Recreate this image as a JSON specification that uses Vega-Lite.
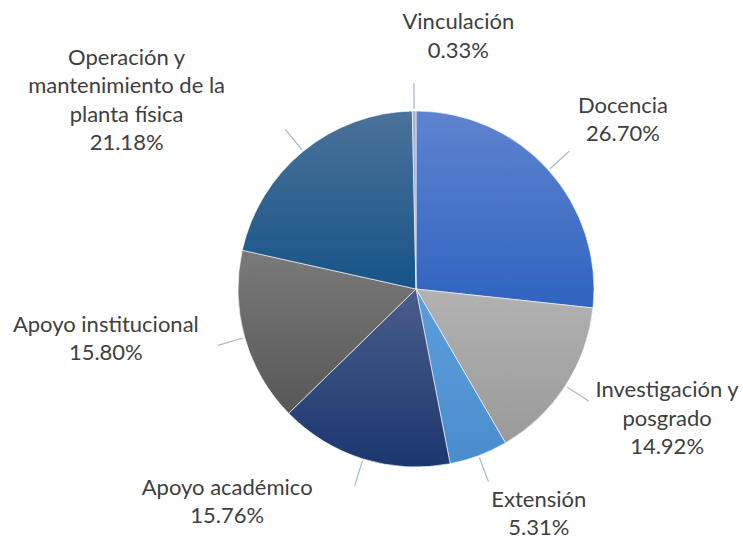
{
  "$schema": "https://vega.github.io/schema/vega-lite/v6.json",
  "width": 654,
  "height": 502,
  "autosize": "none",
  "padding": {"left": 89, "top": 38, "right": 0, "bottom": 0},
  "background": "white",
  "config": {"view": {"stroke": null}},
  "data": {"values": [
    {"idx": 1, "categoria": "Docencia", "etiqueta": "Docencia", "pct": 26.70},
    {"idx": 2, "categoria": "Investigación y posgrado", "etiqueta": "Investigación y\nposgrado", "pct": 14.92},
    {"idx": 3, "categoria": "Extensión", "etiqueta": "Extensión", "pct": 5.31},
    {"idx": 4, "categoria": "Apoyo académico", "etiqueta": "Apoyo académico", "pct": 15.76},
    {"idx": 5, "categoria": "Apoyo institucional", "etiqueta": "Apoyo institucional", "pct": 15.80},
    {"idx": 6, "categoria": "Operación y mantenimiento de la planta física", "etiqueta": "Operación y\nmantenimiento de la\nplanta física", "pct": 21.18},
    {"idx": 7, "categoria": "Vinculación", "etiqueta": "Vinculación", "pct": 0.33}
  ]},
  "transform": [
    {"window": [{"op": "sum", "field": "pct", "as": "fin"}], "sort": [{"field": "idx"}], "frame": [null, 0]},
    {"calculate": "datum.fin - datum.pct", "as": "inicio"},
    {"calculate": "datum.fin - datum.pct / 2", "as": "medio"},
    {"calculate": "datum.etiqueta + '\\n' + format(datum.pct, '.2f') + '%'", "as": "texto"}
  ],
  "layer": [
    {
      "mark": {"type": "arc", "outerRadius": 178, "stroke": "#ffffff", "strokeWidth": 0.6},
      "encoding": {
        "theta": {"field": "inicio", "type": "quantitative", "scale": {"domain": [0, 100]}, "stack": null},
        "theta2": {"field": "fin"},
        "fill": {
          "condition": [
            {"test": "datum.idx === 1", "value": {"gradient": "linear", "x1": 0, "y1": 0, "x2": 0, "y2": 1, "stops": [{"offset": 0, "color": "#5F83D0"}, {"offset": 1, "color": "#3064BF"}]}},
            {"test": "datum.idx === 2", "value": {"gradient": "linear", "x1": 0, "y1": 0, "x2": 0, "y2": 1, "stops": [{"offset": 0, "color": "#B2B2B2"}, {"offset": 1, "color": "#9A9A9A"}]}},
            {"test": "datum.idx === 3", "value": {"gradient": "linear", "x1": 0, "y1": 0, "x2": 0, "y2": 1, "stops": [{"offset": 0, "color": "#5C9EDC"}, {"offset": 1, "color": "#4A8DCE"}]}},
            {"test": "datum.idx === 4", "value": {"gradient": "linear", "x1": 0, "y1": 0, "x2": 0, "y2": 1, "stops": [{"offset": 0, "color": "#4A5D8C"}, {"offset": 1, "color": "#1B376F"}]}},
            {"test": "datum.idx === 5", "value": {"gradient": "linear", "x1": 0, "y1": 0, "x2": 0, "y2": 1, "stops": [{"offset": 0, "color": "#7A7A7A"}, {"offset": 1, "color": "#575757"}]}},
            {"test": "datum.idx === 6", "value": {"gradient": "linear", "x1": 0, "y1": 0, "x2": 0, "y2": 1, "stops": [{"offset": 0, "color": "#4B7299"}, {"offset": 1, "color": "#175488"}]}}
          ],
          "value": {"gradient": "linear", "x1": 0, "y1": 0, "x2": 0, "y2": 1, "stops": [{"offset": 0, "color": "#A3B5D8"}, {"offset": 1, "color": "#8EA6D4"}]}
        }
      }
    },
    {
      "mark": {"type": "arc", "innerRadius": 180, "outerRadius": 206, "stroke": "#ADBBD1", "strokeWidth": 1.3, "fill": null},
      "encoding": {
        "theta": {"field": "medio", "type": "quantitative", "scale": {"domain": [0, 100]}, "stack": null},
        "theta2": {"field": "medio"}
      }
    },
    {
      "transform": [{"filter": "datum.idx === 1"}],
      "mark": {"type": "text", "radius": 262, "dx": 12, "dy": -8, "align": "center", "baseline": "middle", "lineBreak": "\n", "lineHeight": 28.5, "font": "Lato", "fontSize": 22, "fill": "#404040"},
      "encoding": {"theta": {"field": "medio", "type": "quantitative", "scale": {"domain": [0, 100]}, "stack": null}, "text": {"field": "texto"}}
    },
    {
      "transform": [{"filter": "datum.idx === 2"}],
      "mark": {"type": "text", "radius": 285, "dx": 12, "dy": -54, "align": "center", "baseline": "middle", "lineBreak": "\n", "lineHeight": 28.5, "font": "Lato", "fontSize": 22, "fill": "#404040"},
      "encoding": {"theta": {"field": "medio", "type": "quantitative", "scale": {"domain": [0, 100]}, "stack": null}, "text": {"field": "texto"}}
    },
    {
      "transform": [{"filter": "datum.idx === 3"}],
      "mark": {"type": "text", "radius": 255, "dx": 33, "dy": -28, "align": "center", "baseline": "middle", "lineBreak": "\n", "lineHeight": 28.5, "font": "Lato", "fontSize": 22, "fill": "#404040"},
      "encoding": {"theta": {"field": "medio", "type": "quantitative", "scale": {"domain": [0, 100]}, "stack": null}, "text": {"field": "texto"}}
    },
    {
      "transform": [{"filter": "datum.idx === 4"}],
      "mark": {"type": "text", "radius": 275, "dx": -107, "dy": -64, "align": "center", "baseline": "middle", "lineBreak": "\n", "lineHeight": 28.5, "font": "Lato", "fontSize": 22, "fill": "#404040"},
      "encoding": {"theta": {"field": "medio", "type": "quantitative", "scale": {"domain": [0, 100]}, "stack": null}, "text": {"field": "texto"}}
    },
    {
      "transform": [{"filter": "datum.idx === 5"}],
      "mark": {"type": "text", "radius": 310, "dx": -12, "dy": -49, "align": "center", "baseline": "middle", "lineBreak": "\n", "lineHeight": 28.5, "font": "Lato", "fontSize": 22, "fill": "#404040"},
      "encoding": {"theta": {"field": "medio", "type": "quantitative", "scale": {"domain": [0, 100]}, "stack": null}, "text": {"field": "texto"}}
    },
    {
      "transform": [{"filter": "datum.idx === 6"}],
      "mark": {"type": "text", "radius": 340, "dx": -74, "dy": 32, "align": "center", "baseline": "middle", "lineBreak": "\n", "lineHeight": 28.5, "font": "Lato", "fontSize": 22, "fill": "#404040"},
      "encoding": {"theta": {"field": "medio", "type": "quantitative", "scale": {"domain": [0, 100]}, "stack": null}, "text": {"field": "texto"}}
    },
    {
      "transform": [{"filter": "datum.idx === 7"}],
      "mark": {"type": "text", "radius": 253, "dx": 45, "dy": -14, "align": "center", "baseline": "middle", "lineBreak": "\n", "lineHeight": 28.5, "font": "Lato", "fontSize": 22, "fill": "#404040"},
      "encoding": {"theta": {"field": "medio", "type": "quantitative", "scale": {"domain": [0, 100]}, "stack": null}, "text": {"field": "texto"}}
    }
  ]
}
